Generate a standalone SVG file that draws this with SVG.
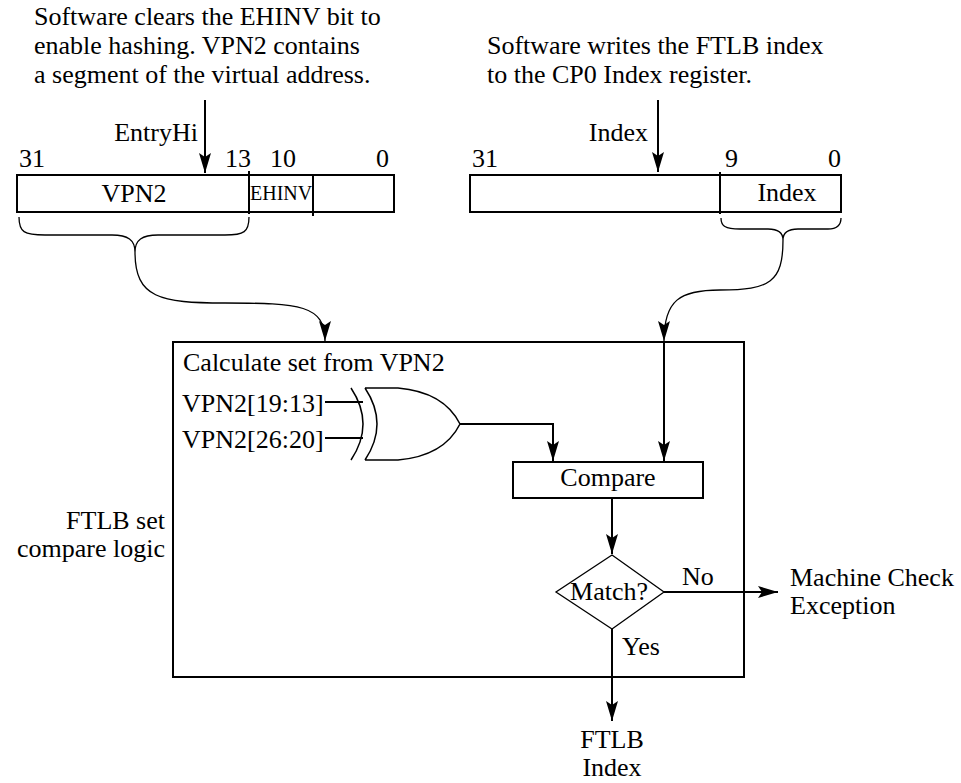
<svg xmlns="http://www.w3.org/2000/svg" width="961" height="783" viewBox="0 0 961 783">
<style>
text{font-family:"Liberation Serif","Times New Roman",serif;font-size:26px;fill:#000}
.small{font-size:20px}
.box{fill:#fff;stroke:#000;stroke-width:2}
.thin{fill:none;stroke:#000;stroke-width:1.3}
.gate{fill:none;stroke:#000;stroke-width:1.5}
.line{fill:none;stroke:#000;stroke-width:2}
</style>
<defs>
<marker id="ah" viewBox="0 0 20 12" refX="20" refY="6" markerWidth="20" markerHeight="12" markerUnits="userSpaceOnUse" orient="auto">
<path d="M0,0 L20,6 L0,12 L4,6 Z" fill="#000"/>
</marker>
</defs>
<rect width="961" height="783" fill="#fff"/>

<g id="note-left">
<text x="34" y="25">Software clears the EHINV bit to</text>
<text x="34" y="54">enable hashing. VPN2 contains</text>
<text x="34" y="83">a segment of the virtual address.</text>
</g>
<g id="note-right">
<text x="487" y="54">Software writes the FTLB index</text>
<text x="487" y="83">to the CP0 Index register.</text>
</g>

<g id="entryhi">
<text x="198" y="141" text-anchor="end">EntryHi</text>
<text x="19" y="167">31</text>
<text x="225" y="167">13</text>
<text x="270" y="167">10</text>
<text x="376" y="167">0</text>
<rect class="box" x="17" y="175" width="377" height="37"/>
<line class="line" x1="249" y1="171" x2="249" y2="214"/>
<line class="line" x1="313" y1="175" x2="313" y2="216"/>
<text x="134" y="202" text-anchor="middle">VPN2</text>
<text class="small" x="250" y="200">EHINV</text>
</g>

<g id="index-reg">
<text x="648" y="141" text-anchor="end">Index</text>
<text x="472" y="167">31</text>
<text x="725" y="167">9</text>
<text x="828" y="167">0</text>
<rect class="box" x="470" y="175" width="371" height="37"/>
<line class="line" x1="720" y1="172" x2="720" y2="214"/>
<text x="787" y="201" text-anchor="middle">Index</text>
</g>

<g id="logic-box">
<rect class="box" x="173" y="342" width="571" height="335"/>
<text x="183" y="371">Calculate set from VPN2</text>
<text x="165" y="529" text-anchor="end">FTLB set</text>
<text x="165" y="557" text-anchor="end">compare logic</text>
</g>

<g id="xor-gate">
<text x="182" y="412">VPN2[19:13]</text>
<text x="182" y="448">VPN2[26:20]</text>
<path class="gate" d="M351,388 Q375,424 351,460"/>
<path class="gate" d="M365,388 Q389,424 365,460 M365,388 L398,388 Q444,392 460,424 Q444,456 398,460 L365,460"/>
</g>

<g id="compare">
<rect class="box" x="513" y="462" width="190" height="36"/>
<text x="608" y="486" text-anchor="middle">Compare</text>
</g>

<g id="match">
<path d="M612,555 L664,592 L612,629 L556,592 Z" fill="#fff" stroke="#000" stroke-width="1.3"/>
<text x="609" y="600" text-anchor="middle">Match?</text>
</g>

<g id="labels">
<text x="682" y="585">No</text>
<text x="622" y="655">Yes</text>
<text x="790" y="586">Machine Check</text>
<text x="790" y="614">Exception</text>
<text x="612" y="748" text-anchor="middle">FTLB</text>
<text x="612" y="776" text-anchor="middle">Index</text>
</g>

<g id="connectors">
<line class="line" x1="205" y1="100" x2="205" y2="173" marker-end="url(#ah)"/>
<line class="line" x1="658" y1="100" x2="658" y2="172" marker-end="url(#ah)"/>
<path class="thin" d="M19,217 C19,232 24,235 45,235 L112,235 C128,235 135,240 135,252 C135,240 142,235 158,235 L225,235 C244,235 249,232 249,217"/>
<path class="thin" d="M135,252 C135,298 160,303 225,303 C300,303 325,305 325,341" marker-end="url(#ah)"/>
<path class="thin" d="M721,218 C721,226 725,229 740,229 L768,229 C778,229 783,233 783,240 C783,233 788,229 798,229 L828,229 C836,229 841,226 841,218"/>
<path class="thin" d="M783,240 C783,282 770,290 720,290 C680,290 664,300 664,341" marker-end="url(#ah)"/>
<line class="line" x1="325" y1="402" x2="363" y2="402"/>
<line class="line" x1="325" y1="438" x2="363" y2="438"/>
<polyline class="line" points="460,424 553,424 553,461" marker-end="url(#ah)"/>
<line class="line" x1="664" y1="343" x2="664" y2="461" marker-end="url(#ah)"/>
<line class="line" x1="612" y1="498" x2="612" y2="554" marker-end="url(#ah)"/>
<line class="line" x1="664" y1="592" x2="778" y2="592" marker-end="url(#ah)"/>
<line class="line" x1="612" y1="629" x2="612" y2="721" marker-end="url(#ah)"/>
</g>
</svg>
